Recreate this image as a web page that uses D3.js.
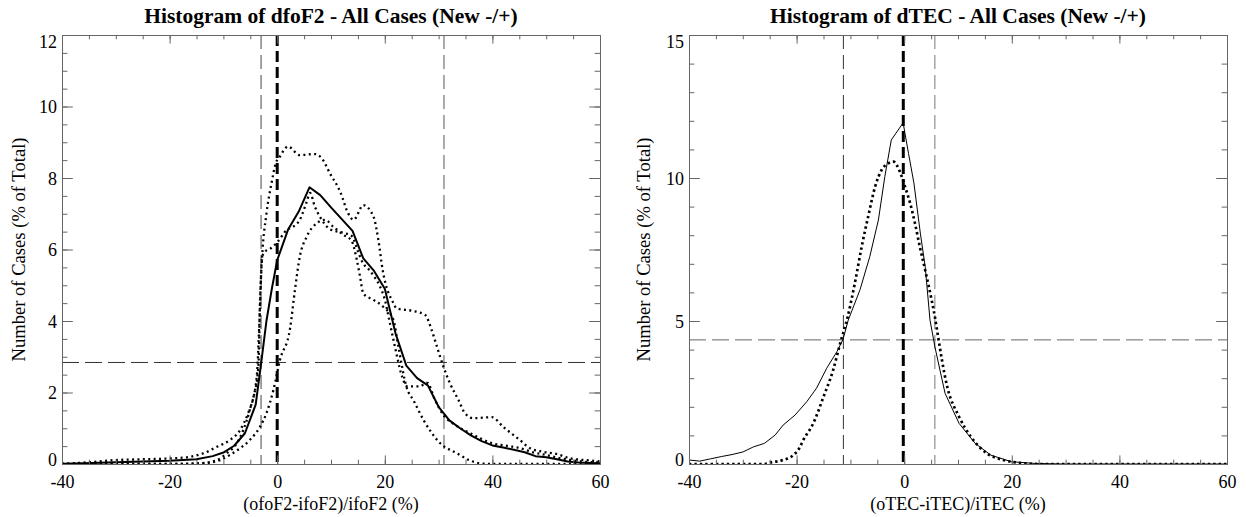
<!DOCTYPE html>
<html>
<head>
<meta charset="utf-8">
<script src="https://cdn.jsdelivr.net/npm/d3@7"></script>
<style>
  html, body { margin: 0; padding: 0; background: #fff; }
  svg { display: block; }
  text { font-family: "Liberation Serif", "Times New Roman", serif; fill: #000; }
</style>
</head>
<body>
<svg id="chart" width="1246" height="517"></svg>
<script>
// ---------------- DATA ----------------
const xTicks = [-40, -20, 0, 20, 40, 60];
const xMinorTicks = d3.range(-40, 61, 5);
const foF2YTicks = [0, 2, 4, 6, 8, 10, 12];
const foF2YMinor = d3.range(0, 12.01, 0.5);
const tecYTicks = [0, 5, 10, 15];
const tecYMinor = d3.range(0, 15.01, 1);

const titles = ["Histogram of dfoF2 - All Cases (New -/+)", "Histogram of dTEC - All Cases (New -/+)"];
const xTitles = ["(ofoF2-ifoF2)/ifoF2 (%)", "(oTEC-iTEC)/iTEC (%)"];
const yTitle = "Number of Cases (% of Total)";

// left panel: solid (all) + three dotted subsets
const foAllX = [-40,-36,-30,-25,-20,-15,-12,-10,-8,-6,-4,-3,-2,-1,0,2,4,6,8,10,12,14,16,18,20,22,24,26,28,30,32,34,36,38,40,42,44,46,48,50,52,54,56,58,60];
const foAllY = [0.01,0.02,0.05,0.07,0.09,0.13,0.22,0.32,0.51,0.86,1.66,2.8,4.0,4.9,5.7,6.55,7.06,7.74,7.52,7.18,6.85,6.52,5.75,5.4,4.9,3.65,2.75,2.4,2.2,1.6,1.22,1.0,0.8,0.64,0.52,0.46,0.4,0.33,0.22,0.19,0.13,0.07,0.04,0.03,0.02];

const foAX = [-40,-35,-30,-25.5,-19.3,-16.2,-13.7,-11.2,-8.8,-6.9,-5.4,-4.4,-3.5,-3.2,-2.8,-2,-1,-0.3,0.5,2,4.2,7,8.3,9.8,11.7,13.2,14.2,16,17.9,18.8,19.6,21.6,22.2,25.3,27.5,28.7,29.7,30.9,32.1,33.7,34.9,36.5,39.9,42,45.1,47,49.5,51.9,54.4,58.8,60];
const foAY = [0,0.05,0.11,0.13,0.16,0.2,0.3,0.48,0.67,0.95,1.42,1.88,2.72,4.5,5.8,7.0,7.9,8.4,8.6,8.88,8.64,8.67,8.55,8.13,7.62,7.01,6.83,7.24,6.92,6.27,5.43,4.5,4.35,4.28,4.17,3.75,3.28,2.72,2.26,1.79,1.42,1.28,1.31,1.04,0.67,0.44,0.34,0.28,0.16,0.09,0.07];

const foBX = [-40,-30,-20,-14.4,-11.2,-9.4,-7.5,-6.3,-5.1,-3.8,-3.3,-2.8,-2.2,-1.5,0,1.8,3,4.2,5.5,6.1,7,8,9.9,12.4,13.9,15,16,17,18,19,20,21,22,23,24.2,26.4,27.9,29.3,31,33,36,40,43,45,47,50,53,56,60];
const foBY = [0,0,0,0.02,0.11,0.3,0.58,0.95,1.51,2.44,4.0,5.8,5.95,6.0,6.2,6.55,6.64,6.83,7.34,7.58,7.2,6.9,6.56,6.46,6.37,5.95,5.6,5.45,5.25,5.0,4.6,3.9,3.2,2.55,2.17,2.17,2.27,1.8,1.35,1.1,0.85,0.58,0.5,0.45,0.35,0.25,0.15,0.08,0.04];

const foCX = [-40,-20,-13.7,-10.6,-8.8,-6.9,-5.1,-3.2,-2,-0.7,0.5,2.4,3.3,4.2,5.5,7.3,8.9,10.4,12.3,13.8,14.8,15.4,16,17.9,19.7,21.6,22.5,24.1,25.3,27.2,30.3,33.4,35.5,37.7,40,48,60];
const foCY = [0,0,0.02,0.11,0.25,0.44,0.67,1.04,1.42,2.07,2.9,3.8,4.87,5.8,6.36,6.73,6.83,6.64,6.41,6.25,5.71,5.24,4.77,4.59,4.4,4.03,3.3,2.12,1.79,1.23,0.58,0.3,0.12,0.02,0,0,0];

// right panel: solid + dotted
const tecAllX = [-40,-38,-36,-34,-32,-30,-28,-26,-24,-22.5,-20.3,-18.1,-16.3,-14.4,-12.5,-11.4,-10.4,-8.2,-6.4,-4.8,-3.6,-2.4,-0.2,0.8,1.8,3,3.9,4.8,5.7,7.6,10.2,13.2,16.1,19.9,24.3,30,40,50,60];
const tecAllY = [0.14,0.1,0.18,0.26,0.33,0.42,0.6,0.72,1.01,1.36,1.71,2.18,2.65,3.35,3.93,4.34,5.03,6.1,7.25,8.53,10.05,11.33,11.93,10.86,9.83,8.07,6.9,5.03,4.1,2.47,1.42,0.72,0.31,0.08,0.02,0,0,0,0];

const tecBX = [-40,-26,-24.9,-22.5,-20.6,-19.5,-18.75,-16.9,-15,-13.2,-11.9,-10.5,-9.2,-7.9,-6.7,-5.4,-4.2,-3,-2,-0.8,0.15,1.1,2,2.9,3.9,5.1,5.7,6.1,8,10.2,12.4,15.4,18.4,21.4,25,60];
const tecBY = [0,0,0.05,0.14,0.31,0.55,0.84,1.42,2.35,3.29,4.22,5.15,6.3,7.6,8.65,9.7,10.28,10.51,10.57,10.22,9.7,9.12,8.42,7.6,6.78,5.73,5.15,4.68,2.7,1.65,0.95,0.37,0.14,0.04,0,0];

// reference lines (x of thin dashed, x of thick dashed median, y of horizontal dashed)
const foRefX = [-3.0, 31.0];
const foMedian = 0;
const foRefY = 2.84;
const tecRefX = [-11.3, 5.7];
const tecMedian = -0.17;
const tecRefY = 4.34;

// ---------------- DRAW ----------------
const svg = d3.select("#chart");
const plotTop = 35, plotBottom = 464;
const fmt = d => String(d);
const serif = "'Liberation Serif', 'Times New Roman', serif";

function panel(cfg) {
  const g = svg.append("g");
  const x = d3.scaleLinear().domain([-40, 60]).range([cfg.x0, cfg.x1]);
  const y = d3.scaleLinear().domain([0, cfg.ymax]).range([plotBottom, plotTop]);
  const clipId = "clip" + cfg.id;
  svg.append("clipPath").attr("id", clipId).append("rect")
    .attr("x", cfg.x0).attr("y", plotTop).attr("width", cfg.x1 - cfg.x0).attr("height", plotBottom - plotTop + 1);

  const plot = g.append("g").attr("clip-path", `url(#${clipId})`);

  cfg.refX.forEach((v, i) => {
    plot.append("line").attr("x1", x(v)).attr("x2", x(v)).attr("y1", plotTop).attr("y2", plotBottom)
      .attr("stroke", cfg.refColors[i]).attr("stroke-width", 1).attr("stroke-dasharray", "14,6");
  });
  plot.append("line").attr("x1", cfg.x0).attr("x2", cfg.x1).attr("y1", y(cfg.refY)).attr("y2", y(cfg.refY))
    .attr("stroke", cfg.refColors[2]).attr("stroke-width", 1).attr("stroke-dasharray", "17,6");
  plot.append("line").attr("x1", x(cfg.median)).attr("x2", x(cfg.median)).attr("y1", plotTop).attr("y2", plotBottom)
    .attr("stroke", "#000").attr("stroke-width", 3).attr("stroke-dasharray", "11,5");

  cfg.series.forEach(s => {
    const pts = s.xs.map((v, i) => [v, s.ys[i]]);
    const line = d3.line().x(d => x(d[0])).y(d => y(d[1]))
      .curve(s.dotted ? d3.curveMonotoneX : d3.curveLinear);
    plot.append("path").attr("d", line(pts)).attr("fill", "none")
      .attr("stroke", "#000").attr("stroke-width", s.width)
      .attr("stroke-linejoin", "round")
      .attr("stroke-dasharray", s.dotted ? s.dash : null);
  });

  const axisColor = "#666";
  const xb = g.append("g").attr("transform", `translate(0,${plotBottom})`)
    .call(d3.axisBottom(x).tickValues(xTicks).tickSize(-8.6).tickFormat(fmt));
  xb.attr("font-family", serif).attr("font-size", 18);
  xb.selectAll("text").attr("y", 24).attr("dy", null);
  g.append("g").attr("transform", `translate(0,${plotBottom})`)
    .call(d3.axisBottom(x).tickValues(xMinorTicks).tickSize(-4.3).tickFormat(""));
  g.append("g").attr("transform", `translate(0,${plotTop})`)
    .call(d3.axisTop(x).tickValues(xTicks).tickSize(-8.6).tickFormat(""));
  g.append("g").attr("transform", `translate(0,${plotTop})`)
    .call(d3.axisTop(x).tickValues(xMinorTicks).tickSize(-4.3).tickFormat(""));

  const yl = g.append("g").attr("transform", `translate(${cfg.x0},0)`)
    .call(d3.axisLeft(y).tickValues(cfg.yTicks).tickSize(-10.8).tickFormat(fmt));
  yl.attr("font-family", serif).attr("font-size", 18);
  yl.selectAll("text").attr("x", -5)
    .attr("dy", d => d === 0 ? "0.1em" : (d === cfg.ymax ? "0.68em" : "0.35em"));
  g.append("g").attr("transform", `translate(${cfg.x0},0)`)
    .call(d3.axisLeft(y).tickValues(cfg.yMinor).tickSize(-5.4).tickFormat(""));
  g.append("g").attr("transform", `translate(${cfg.x1},0)`)
    .call(d3.axisRight(y).tickValues(cfg.yTicks).tickSize(-10.8).tickFormat(""));
  g.append("g").attr("transform", `translate(${cfg.x1},0)`)
    .call(d3.axisRight(y).tickValues(cfg.yMinor).tickSize(-5.4).tickFormat(""));

  g.selectAll(".domain").attr("stroke", axisColor);
  g.selectAll(".tick line").attr("stroke", axisColor);

  const cx = (cfg.x0 + cfg.x1) / 2;
  g.append("text").attr("x", cx).attr("y", 23).attr("text-anchor", "middle")
    .attr("font-family", serif).attr("font-size", 21.5).attr("font-weight", "bold").text(cfg.title);
  g.append("text").attr("x", cx).attr("y", 510).attr("text-anchor", "middle")
    .attr("font-family", serif).attr("font-size", 18).text(cfg.xTitle);
  g.append("text").attr("transform", `translate(${cfg.yLabelX},${(plotTop + plotBottom) / 2}) rotate(-90)`)
    .attr("text-anchor", "middle").attr("font-family", serif).attr("font-size", 18.6).text(yTitle);
}

panel({
  id: "L", x0: 62, x1: 600, ymax: 12, yTicks: foF2YTicks, yMinor: foF2YMinor,
  title: titles[0], xTitle: xTitles[0], yLabelX: 25,
  refX: foRefX, refY: foRefY, median: foMedian, refColors: ["#444", "#555", "#333"],
  series: [
    { xs: foAX, ys: foAY, dotted: true, width: 2.3, dash: "2,3.4" },
    { xs: foBX, ys: foBY, dotted: true, width: 2.3, dash: "2,3.4" },
    { xs: foCX, ys: foCY, dotted: true, width: 2.3, dash: "2,3.4" },
    { xs: foAllX, ys: foAllY, dotted: false, width: 2 }
  ]
});

panel({
  id: "R", x0: 689, x1: 1227, ymax: 15, yTicks: tecYTicks, yMinor: tecYMinor,
  title: titles[1], xTitle: xTitles[1], yLabelX: 650,
  refX: tecRefX, refY: tecRefY, median: tecMedian, refColors: ["#333", "#777", "#666"],
  series: [
    { xs: tecBX, ys: tecBY, dotted: true, width: 2.7, dash: "2.4,3" },
    { xs: tecAllX, ys: tecAllY, dotted: false, width: 1 }
  ]
});
</script>
</body>
</html>
